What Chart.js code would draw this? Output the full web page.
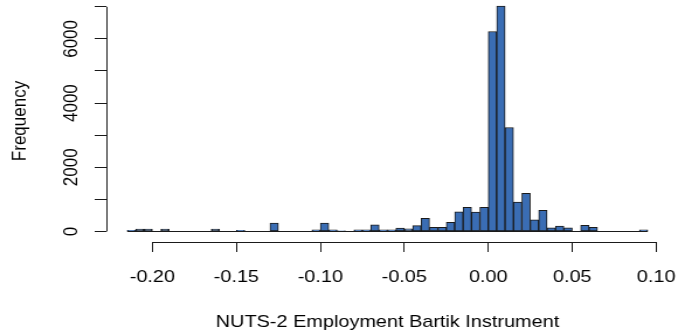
<!DOCTYPE html>
<html>
<head>
<meta charset="utf-8">
<script src="https://cdn.jsdelivr.net/npm/chart.js@4"></script>
<style>
  html, body { margin: 0; padding: 0; background: #fff; }
  #hist { display: block; }
</style>
</head>
<body>
<canvas id="hist" width="580" height="336" style="width:678px;height:336px"></canvas>
<script>
// histogram bins: left edge of the first bin and bin width
const binStart = -0.215;
const binWidth = 0.005;

// counts per bin, from -0.215 up to 0.095
const counts = [
    30, 75, 75, 0, 70, 0, 0, 0, 0, 0,
    75, 0, 0, 35, 0, 0, 0, 260, 0, 0,
    0, 0, 53, 260, 53, 20, 0, 50, 50, 208,
    53, 53, 104, 80, 178, 405, 130, 130, 280, 610,
    748, 604, 748, 6230, 7020, 3240, 916, 1184, 364, 654,
    115, 165, 115, 0, 187, 125, 0, 0, 0, 0,
    0, 53
];

const xTicks = [-0.20, -0.15, -0.10, -0.05, 0.00, 0.05, 0.10];
const yTicks = [0, 1000, 2000, 3000, 4000, 5000, 6000, 7000];
const yLabels = [0, 2000, 4000, 6000];

const xTitle = 'NUTS-2 Employment Bartik Instrument';
const yTitle = 'Frequency';

const FONT = "'Liberation Sans', Arial, Helvetica, sans-serif";
const INK = '#1a1a1a';

const binEnd = binStart + counts.length * binWidth;
const pad = (binEnd - binStart) * 0.04;

const points = counts.map((c, i) => ({ x: binStart + (i + 0.5) * binWidth, y: c }));

// R style axes: lines only span the tick range, rotated y labels
const rAxes = {
    id: 'rAxes',
    afterDatasetsDraw(chart) {
        const ctx = chart.ctx;
        const xs = chart.scales.x;
        const ys = chart.scales.y;
        const area = chart.chartArea;
        ctx.save();
        ctx.strokeStyle = INK;
        ctx.lineWidth = 1;

        // zero-height bins still show as a flat line
        const y0 = Math.round(ys.getPixelForValue(0)) + 0.5;
        ctx.beginPath();
        ctx.moveTo(xs.getPixelForValue(binStart), y0);
        ctx.lineTo(xs.getPixelForValue(binEnd), y0);
        ctx.stroke();

        const xb = Math.round(area.bottom) + 0.5;
        ctx.beginPath();
        ctx.moveTo(xs.getPixelForValue(xTicks[0]), xb);
        ctx.lineTo(xs.getPixelForValue(xTicks[xTicks.length - 1]), xb);
        ctx.stroke();

        const yl = Math.round(area.left) + 0.5;
        ctx.beginPath();
        ctx.moveTo(yl, ys.getPixelForValue(yTicks[0]));
        ctx.lineTo(yl, ys.getPixelForValue(yTicks[yTicks.length - 1]));
        ctx.stroke();

        ctx.fillStyle = '#000';
        ctx.font = '17px ' + FONT;
        ctx.textAlign = 'center';
        ctx.textBaseline = 'alphabetic';
        yLabels.forEach(v => {
            ctx.save();
            ctx.translate(area.left - 25.5, ys.getPixelForValue(v));
            ctx.rotate(-Math.PI / 2);
            ctx.fillText(String(v), 0, 0);
            ctx.restore();
        });
        ctx.restore();
    }
};

new Chart(document.getElementById('hist'), {
    type: 'bar',
    data: {
        datasets: [{
            data: points,
            backgroundColor: '#3a6db4',
            borderColor: INK,
            borderWidth: 1,
            borderSkipped: false,
            barPercentage: 1,
            categoryPercentage: 1
        }]
    },
    options: {
        responsive: false,
        animation: false,
        layout: { padding: { left: 0, right: 8, top: 0, bottom: 0 } },
        plugins: {
            legend: { display: false },
            tooltip: { enabled: false }
        },
        scales: {
            x: {
                type: 'linear',
                offset: false,
                min: binStart - pad,
                max: binEnd + pad,
                afterBuildTicks: s => { s.ticks = xTicks.map(v => ({ value: v })); },
                afterFit: s => {
                    s.height = 94;
                    s.paddingLeft = 0;
                    s.paddingRight = 0;
                },
                border: { display: false },
                grid: { offset: false, drawOnChartArea: false, drawTicks: true, tickLength: 10, color: INK, lineWidth: 1 },
                ticks: {
                    padding: 15,
                    color: '#000',
                    maxRotation: 0,
                    font: { family: FONT, size: 17 },
                    callback: v => v.toFixed(2)
                },
                title: {
                    display: true,
                    text: xTitle,
                    color: '#000',
                    font: { family: FONT, size: 17 },
                    padding: { top: 0, bottom: 3.5 }
                }
            },
            y: {
                min: -330,
                max: 7213,
                afterBuildTicks: s => { s.ticks = yTicks.map(v => ({ value: v })); },
                afterFit: s => {
                    s.width = 91;
                    s.paddingTop = 0;
                    s.paddingBottom = 0;
                },
                border: { display: false },
                grid: { drawOnChartArea: false, drawTicks: true, tickLength: 10, color: INK, lineWidth: 1 },
                ticks: { display: false },
                title: {
                    display: true,
                    text: yTitle,
                    color: '#000',
                    font: { family: FONT, size: 17 },
                    padding: { top: 7.4, bottom: 0 }
                }
            }
        }
    },
    plugins: [rAxes]
});
</script>
</body>
</html>
